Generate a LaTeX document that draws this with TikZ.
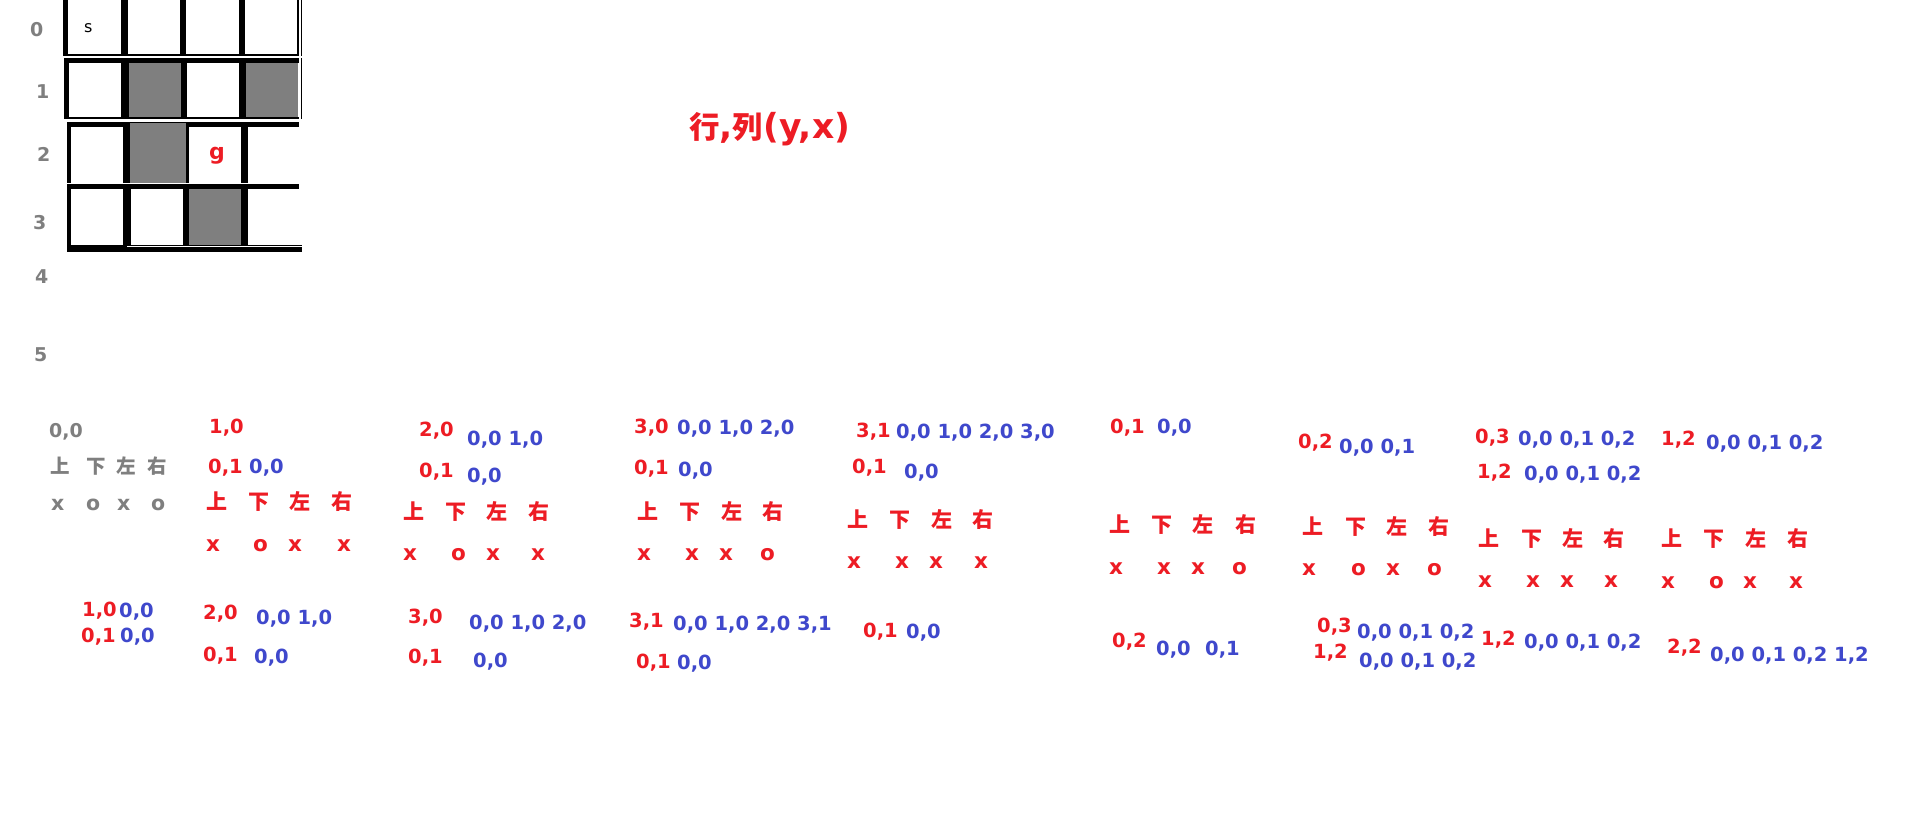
\documentclass[tikz,border=0pt]{standalone}
\usepackage{fontspec}
\setmainfont{DejaVu Sans}
\newfontfamily\cjk{Noto Sans CJK JP}
\definecolor{pred}{HTML}{ED1C24}
\definecolor{pblue}{HTML}{3F48CC}
\definecolor{pgray}{HTML}{7F7F7F}
\newcommand\bx[2]{\makebox[#1pt][l]{#2}}
\tikzset{
  txt/.style={anchor=base west, inner sep=0pt, font=\fontsize{19.5}{20}\selectfont\bfseries},
  rd/.style={txt, text=pred},
  bl/.style={txt, text=pblue},
  gy/.style={txt, text=pgray, font=\fontsize{19}{20}\selectfont\bfseries},
  xo/.style={txt, text=pred, font=\fontsize{21.5}{22}\selectfont\bfseries},
  gxo/.style={txt, text=pgray, font=\fontsize{20.5}{22}\selectfont\bfseries},
  dir/.style={anchor=west, inner sep=0pt, text=pred, font=\cjk\bfseries\fontsize{21}{22}\selectfont},
  gdir/.style={anchor=west, inner sep=0pt, text=pgray, font=\cjk\bfseries\fontsize{19.5}{22}\selectfont},
  cellgray/.style={fill=pgray},
  ink/.style={fill=black},
}
\begin{document}
\begin{tikzpicture}[x=1pt,y=-1pt]
\useasboundingbox (0,0) rectangle (1914,824);
\fill[white] (0,0) rectangle (1914,824);

% ---------- grid ----------
% row 0
\fill[ink] (63,0) rectangle (68,56);
\fill[ink] (121,0) rectangle (128,55);
\fill[ink] (180,0) rectangle (186,55);
\fill[ink] (239,0) rectangle (245,55);
\fill[ink] (297,0) rectangle (299.3,55);
\fill[ink] (300.6,0) rectangle (302,56);
\fill[ink] (63,54) rectangle (299,56);
% row 1
\fill[cellgray] (129,63) rectangle (181,117);
\fill[cellgray] (246,63) rectangle (298,117);
\fill[ink] (64,58) rectangle (299,63);
\fill[ink] (64,58) rectangle (69,119);
\fill[ink] (121,58) rectangle (129,119);
\fill[ink] (181,58) rectangle (187,119);
\fill[ink] (239,58) rectangle (246,119);
\fill[ink] (300.5,58) rectangle (301.6,119);
\fill[ink] (64,117) rectangle (299,119);
% row 2
\fill[ink] (67,122) rectangle (299,127);
\fill[ink] (67,122) rectangle (71,183);
\fill[ink] (123,122) rectangle (130,183);
\fill[cellgray] (130,123) rectangle (186,183);
\fill[ink] (186,123) rectangle (189,183);
\fill[ink] (241,122) rectangle (248,183);
% row 3
\fill[ink] (67,184) rectangle (299,189);
\fill[ink] (67,184) rectangle (71,252);
\fill[ink] (123,184) rectangle (131,252);
\fill[ink] (183,184) rectangle (189,252);
\fill[cellgray] (189,189) rectangle (241,245);
\fill[ink] (241,184) rectangle (248,252);
\fill[ink] (67,245) rectangle (302,252);
\fill[white] (127,246.3) rectangle (302,247.3);

% cell marks
\node[anchor=base west, inner sep=0pt, font=\fontsize{16}{18}\selectfont] (s) at (84,33) {s};
\node[anchor=base west, inner sep=0pt, text=pred, font=\fontsize{22}{22}\selectfont\bfseries] (g) at (209,160) {g};

% row labels
\node[gy] (r0) at (30,37) {0};
\node[gy] (r1) at (36,99) {1};
\node[gy] (r2) at (37,161) {2};
\node[gy] (r3) at (33,229) {3};
\node[gy] (r4) at (35,283) {4};
\node[gy] (r5) at (34,361) {5};

% title
\node[anchor=base west, inner sep=0pt, text=pred, font=\fontsize{34.5}{36}\selectfont\bfseries] (title) at (689,139)
  {{\cjk\fontsize{30.5}{32}\selectfont 行},{\cjk\fontsize{30.5}{32}\selectfont 列}(y,x)};

% ---------- start state (gray) ----------
\node[gy] (g00) at (49,437) {0,0};
\node[gdir] (gd) at (50,466) {\bx{36}{上}\bx{30}{下}\bx{31}{左}右};
\node[gxo] (gx) at (51,510) {\bx{35}{x}\bx{31}{o}\bx{34}{x}o};

% ---------- group 1 ----------
\node[rd] (a1) at (209,433) {1,0};
\node[rd] (a2) at (208,473) {0,1};
\node[bl] (a2b) at (249,473) {0,0};
\node[dir] (ad) at (206,502) {\bx{42}{上}\bx{41}{下}\bx{42}{左}右};
\node[xo] (ax) at (206,551) {\bx{47}{x}\bx{35}{o}\bx{49}{x}x};

\node[rd] (b1) at (82,616) {1,0};
\node[bl] (b1b) at (119,617) {0,0};
\node[rd] (b2) at (81,642) {0,1};
\node[bl] (b2b) at (120,642) {0,0};
\node[rd] (b3) at (203,619) {2,0};
\node[bl] (b3b) at (256,624) {0,0 1,0};
\node[rd] (b4) at (203,661) {0,1};
\node[bl] (b4b) at (254,663) {0,0};

% ---------- group 2 ----------
\node[rd] (c1) at (419,436) {2,0};
\node[bl] (c1b) at (467,445) {0,0 1,0};
\node[rd] (c2) at (419,477) {0,1};
\node[bl] (c2b) at (467,482) {0,0};
\node[dir] (cd) at (403,512) {\bx{42}{上}\bx{41}{下}\bx{42}{左}右};
\node[xo] (cx) at (403,560) {\bx{48}{x}\bx{35}{o}\bx{45}{x}x};

\node[rd] (e1) at (634,433) {3,0};
\node[bl] (e1b) at (677,434) {0,0 1,0 2,0};
\node[rd] (e2) at (634,474) {0,1};
\node[bl] (e2b) at (678,476) {0,0};
\node[dir] (ed) at (637,512) {\bx{42}{上}\bx{42}{下}\bx{41}{左}右};
\node[xo] (ex) at (637,560) {\bx{48}{x}\bx{34}{x}\bx{41}{x}o};

\node[rd] (f1) at (408,623) {3,0};
\node[bl] (f1b) at (469,629) {0,0 1,0 2,0};
\node[rd] (f2) at (408,663) {0,1};
\node[bl] (f2b) at (473,667) {0,0};
\node[rd] (f3) at (629,627) {3,1};
\node[bl] (f3b) at (673,630) {0,0 1,0 2,0 3,1};
\node[rd] (f4) at (636,668) {0,1};
\node[bl] (f4b) at (677,669) {0,0};

% ---------- group 3 ----------
\node[rd] (h1) at (856,437) {3,1};
\node[bl] (h1b) at (896,438) {0,0 1,0 2,0 3,0};
\node[rd] (h2) at (852,473) {0,1};
\node[bl] (h2b) at (904,478) {0,0};
\node[dir] (hd) at (847,520) {\bx{42}{上}\bx{42}{下}\bx{41}{左}右};
\node[xo] (hx) at (847,568) {\bx{48}{x}\bx{34}{x}\bx{45}{x}x};

\node[rd] (k1) at (1110,433) {0,1};
\node[bl] (k1b) at (1157,433) {0,0};
\node[dir] (kd) at (1109,525) {\bx{42}{上}\bx{41}{下}\bx{43}{左}右};
\node[xo] (kx) at (1109,574) {\bx{48}{x}\bx{34}{x}\bx{41}{x}o};

\node[rd] (m1) at (863,637) {0,1};
\node[bl] (m1b) at (906,638) {0,0};
\node[rd] (m2) at (1112,647) {0,2};
\node[bl] (m2b) at (1156,655) {0,0};
\node[bl] (m2c) at (1205,655) {0,1};

% ---------- group 4 ----------
\node[rd] (p1) at (1298,448) {0,2};
\node[bl] (p1b) at (1339,453) {0,0 0,1};
\node[dir] (pd) at (1302,527) {\bx{43}{上}\bx{41}{下}\bx{42}{左}右};
\node[xo] (px) at (1302,575) {\bx{49}{x}\bx{35}{o}\bx{41}{x}o};

\node[rd] (q1) at (1475,443) {0,3};
\node[bl] (q1b) at (1518,445) {0,0 0,1 0,2};
\node[rd] (q2) at (1477,478) {1,2};
\node[bl] (q2b) at (1524,480) {0,0 0,1 0,2};
\node[dir] (qd) at (1478,539) {\bx{43}{上}\bx{41}{下}\bx{41}{左}右};
\node[xo] (qx) at (1478,587) {\bx{48}{x}\bx{34}{x}\bx{44}{x}x};

\node[rd] (u1) at (1661,445) {1,2};
\node[bl] (u1b) at (1706,449) {0,0 0,1 0,2};
\node[dir] (ud) at (1661,539) {\bx{42}{上}\bx{42}{下}\bx{42}{左}右};
\node[xo] (ux) at (1661,588) {\bx{48}{x}\bx{34}{o}\bx{46}{x}x};

\node[rd] (v1) at (1317,632) {0,3};
\node[bl] (v1b) at (1357,638) {0,0 0,1 0,2};
\node[rd] (v2) at (1313,658) {1,2};
\node[bl] (v2b) at (1359,667) {0,0 0,1 0,2};
\node[rd] (v3) at (1481,645) {1,2};
\node[bl] (v3b) at (1524,648) {0,0 0,1 0,2};
\node[rd] (v4) at (1667,653) {2,2};
\node[bl] (v4b) at (1710,661) {0,0 0,1 0,2 1,2};
\end{tikzpicture}
\end{document}
